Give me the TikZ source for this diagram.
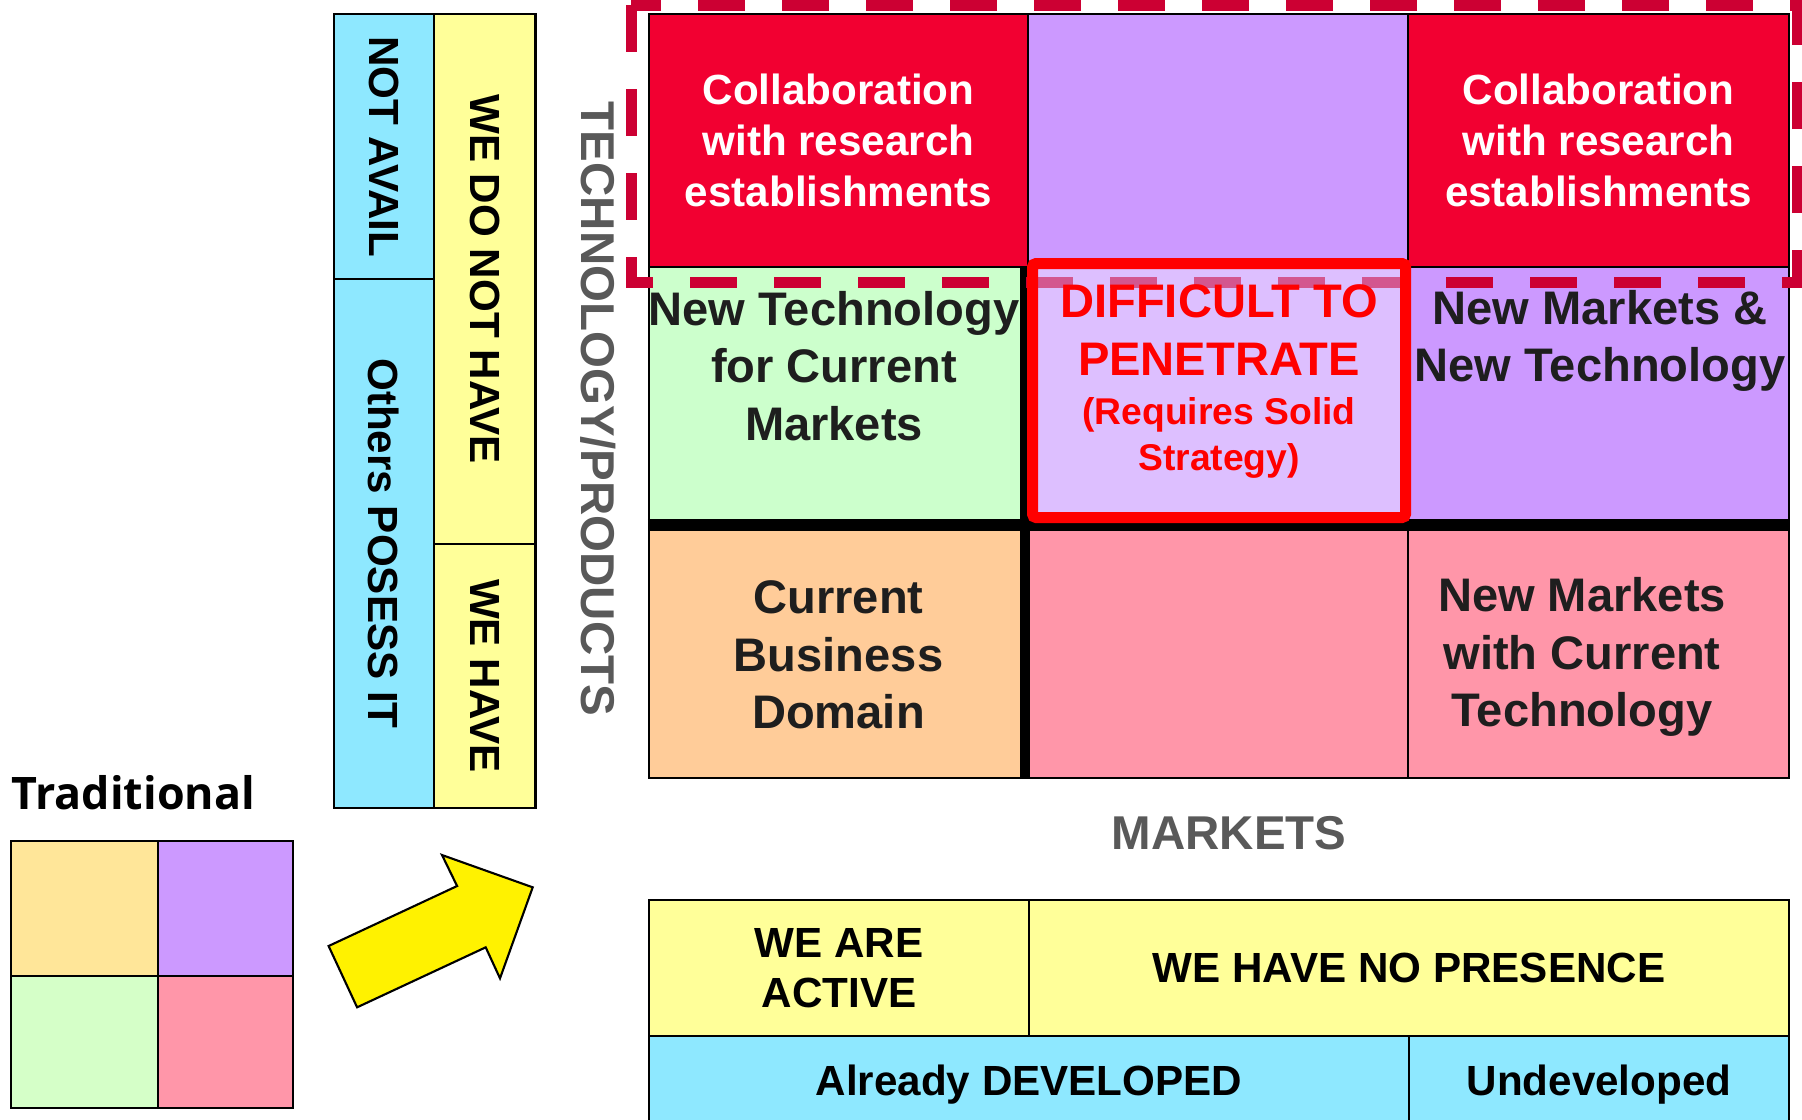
\documentclass[tikz,border=0pt]{standalone}
\usepackage{fontspec}
\setmainfont{Liberation Sans}
\newfontfamily\tradfont{Open Sans}
\definecolor{availblue}{HTML}{8EE8FF}
\definecolor{haveyellow}{HTML}{FFFF99}
\definecolor{collabred}{HTML}{F20031}
\definecolor{lilac}{HTML}{CC99FF}
\definecolor{palelilac}{HTML}{DDBFFF}
\definecolor{mint}{HTML}{CCFFCC}
\definecolor{peach}{HTML}{FFCC99}
\definecolor{rose}{HTML}{FF96A9}
\definecolor{cream}{HTML}{FFE699}
\definecolor{paleleaf}{HTML}{D5FFC8}
\definecolor{dashred}{HTML}{CC0033}
\definecolor{axisgray}{HTML}{595959}
\definecolor{inkgray}{HTML}{1E1E1E}
\begin{document}
\begin{tikzpicture}[x=1cm,y=-1cm]
        \tikzstyle{quad}=[draw=black, line width=0.6pt, rectangle,
            inner sep=0pt, align=center]
        \tikzstyle{colnode}=[quad, rotate=-90,
            font=\bfseries\fontsize{12}{14}\selectfont]
        \tikzstyle{bigtext}=[align=center, inner sep=0pt, text=inkgray,
            font=\bfseries\fontsize{13.4}{16.4}\selectfont]
        \tikzstyle{collabtext}=[text=white,
            font=\bfseries\fontsize{12}{14.5}\selectfont]
        \tikzstyle{notetext}=[align=center, inner sep=0pt, text=red,
            font=\bfseries\fontsize{10.6}{13.2}\selectfont]
        \tikzstyle{bartext}=[font=\bfseries\fontsize{12}{14.1}\selectfont]
        \tikzstyle{axistext}=[inner sep=0pt, text=axisgray,
            font=\bfseries\fontsize{13.5}{16}\selectfont]
        \tikzstyle{thickline}=[draw=black, line cap=butt]
        \tikzstyle{frame}=[draw=dashred, line width=0.11cm,
            dash pattern=on 0.47cm off 0.37cm]

        \useasboundingbox (0,0) rectangle (18.02,11.19);

        % technology columns
        \node[colnode, fill=availblue, minimum width=2.65cm, minimum height=1.0cm] (notavail) at (3.84,1.465) {NOT AVAIL};
        \node[colnode, fill=availblue, minimum width=5.29cm, minimum height=1.0cm] (possess) at (3.84,5.435) {Others POSESS IT};
        \node[colnode, fill=haveyellow, minimum width=5.30cm, minimum height=1.015cm] (donothave) at (4.8475,2.79) {WE DO NOT HAVE};
        \node[colnode, fill=haveyellow, minimum width=2.64cm, minimum height=1.015cm] (wehave) at (4.8475,6.76) {WE HAVE};

        % main grid
        \node[quad, fill=collabred, collabtext, minimum width=3.79cm, minimum height=2.53cm] (collabL) at (8.385,1.405) {Collaboration\\with research\\establishments};
        \node[quad, fill=lilac, minimum width=3.80cm, minimum height=2.53cm] (topmid) at (12.18,1.405) {};
        \node[quad, fill=collabred, collabtext, minimum width=3.81cm, minimum height=2.53cm] (collabR) at (15.985,1.405) {Collaboration\\with research\\establishments};
        \node[quad, fill=mint, minimum width=3.79cm, minimum height=2.57cm] (newtech) at (8.385,3.955) {};
        \node[quad, fill=palelilac, minimum width=3.80cm, minimum height=2.57cm] (midcell) at (12.18,3.955) {};
        \node[quad, fill=lilac, minimum width=3.81cm, minimum height=2.57cm] (newboth) at (15.985,3.955) {};
        \node[quad, fill=peach, minimum width=3.79cm, minimum height=2.54cm] (curbiz) at (8.385,6.51) {};
        \node[quad, fill=rose, minimum width=3.80cm, minimum height=2.54cm] (emptyrose) at (12.18,6.51) {};
        \node[quad, fill=rose, minimum width=3.81cm, minimum height=2.54cm] (newmkt) at (15.985,6.51) {};

        \draw[thickline, line width=0.12cm] (newtech.south west) -- (newboth.south east);
        \draw[thickline, line width=0.10cm] ([xshift=-0.4mm]newtech.north east) -- ([xshift=-0.4mm]curbiz.south east);

        % research frame
        \coordinate (frameTL) at (6.31,0.05);
        \coordinate (frameBR) at (17.97,2.82);
        \draw[frame] (frameTL) -- (frameTL |- frameBR) -- (frameBR) -- (frameBR |- frameTL) -- cycle;

        \node[draw=red, line width=0.11cm, fill=palelilac, fill opacity=0.45, rounded corners=1pt,
            minimum width=3.73cm, minimum height=2.54cm] (difficult) at (12.19,3.905) {};

        \node[bigtext] (newtechtxt) at (8.34,3.66) {New Technology\\for Current\\Markets};
        \node[bigtext, text=red] (difftxt) at (12.19,3.30) {DIFFICULT TO\\PENETRATE};
        \node[notetext] (strategytxt) at (12.19,4.38) {(Requires Solid\\Strategy)};
        \node[bigtext] (newbothtxt) at (16.0,3.41) {New Markets \&\\New Technology};
        \node[bigtext] (curbiztxt) at (8.385,6.55) {Current\\Business\\Domain};
        \node[bigtext] (newmkttxt) at (15.82,6.57) {New Markets\\with Current\\Technology};

        \node[axistext, rotate=-90] (techaxis) at (5.98,4.09) {TECHNOLOGY/PRODUCTS};
        \node[axistext] (marketaxis) at (12.29,8.335) {MARKETS};

        % market bars
        \node[quad, fill=haveyellow, bartext, minimum width=3.80cm, minimum height=1.36cm] (active) at (8.39,9.68) {WE ARE\\ACTIVE};
        \node[quad, fill=haveyellow, bartext, minimum width=7.60cm, minimum height=1.36cm] (nopresence) at (14.09,9.68) {WE HAVE NO PRESENCE};
        \node[quad, fill=availblue, bartext, minimum width=7.60cm, minimum height=0.97cm] (developed) at (10.29,10.845) {Already DEVELOPED};
        \node[quad, fill=availblue, bartext, minimum width=3.80cm, minimum height=0.97cm] (undeveloped) at (15.99,10.845) {Undeveloped};

        % traditional matrix
        \node[anchor=west, inner sep=0pt, font=\tradfont\bfseries\fontsize{12.75}{15}\selectfont] (tradtitle) at (0.11,7.93) {Traditional};
        \node[quad, fill=cream, minimum width=1.47cm, minimum height=1.35cm] (tradTL) at (0.845,9.085) {};
        \node[quad, fill=lilac, minimum width=1.35cm, minimum height=1.35cm] (tradTR) at (2.255,9.085) {};
        \node[quad, fill=paleleaf, minimum width=1.47cm, minimum height=1.32cm] (tradBL) at (0.845,10.42) {};
        \node[quad, fill=rose, minimum width=1.35cm, minimum height=1.32cm] (tradBR) at (2.255,10.42) {};

        \draw[fill=yellow, line width=0.6pt] (3.286,9.46) -- (3.571,10.073) -- (4.857,9.473) -- (5.0,9.783)
            -- (5.327,8.873) -- (4.42,8.55) -- (4.571,8.86) -- cycle;

    \end{tikzpicture}
\end{document}
